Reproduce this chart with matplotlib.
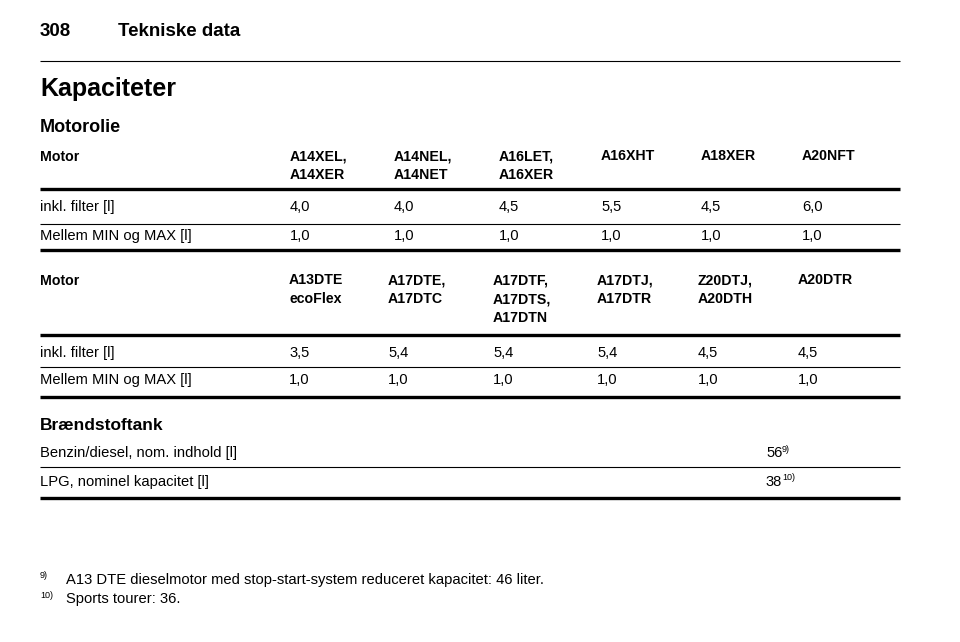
import matplotlib
matplotlib.use("Agg")
import matplotlib.pyplot as plt

plt.rcParams['font.family'] = ['Liberation Sans', 'DejaVu Sans']

page_no = "308"
page_title = "Tekniske data"
section = "Kapaciteter"
sub1 = "Motorolie"
sub2 = "Brændstoftank"

motors1 = ["A14XEL,\nA14XER", "A14NEL,\nA14NET", "A16LET,\nA16XER", "A16XHT", "A18XER", "A20NFT"]
filter1 = ["4,0", "4,0", "4,5", "5,5", "4,5", "6,0"]
minmax1 = ["1,0", "1,0", "1,0", "1,0", "1,0", "1,0"]

motors2 = ["A13DTE\necoFlex", "A17DTE,\nA17DTC", "A17DTF,\nA17DTS,\nA17DTN", "A17DTJ,\nA17DTR", "Z20DTJ,\nA20DTH", "A20DTR"]
filter2 = ["3,5", "5,4", "5,4", "5,4", "4,5", "4,5"]
minmax2 = ["1,0", "1,0", "1,0", "1,0", "1,0", "1,0"]

row_labels = ["Motor", "inkl. filter [l]", "Mellem MIN og MAX [l]"]
fuel_labels = ["Benzin/diesel, nom. indhold [l]", "LPG, nominel kapacitet [l]"]
fuel_values = ["56", "38"]
fuel_notes = ["9)", "10)"]
footnote_marks = ["9)", "10)"]
footnotes = ["A13 DTE dieselmotor med stop-start-system reduceret kapacitet: 46 liter.",
             "Sports tourer: 36."]

fig = plt.figure(figsize=(9.6, 6.42), dpi=100)
ax = fig.add_axes([0, 0, 1, 1])
ax.set_xlim(0, 960)
ax.set_ylim(642, 0)
ax.axis('off')

fs = 10.6
def t(x, y, s, **kw):
    kw.setdefault('fontsize', fs)
    ax.text(x, y, s, va='center', ha='left', **kw)

def hline(y, lw):
    ax.plot([40, 900], [y, y], color='black', lw=lw, solid_capstyle='butt')

t(40, 32, page_no, fontsize=13.5, fontweight='bold')
t(118, 32, page_title, fontsize=13.5, fontweight='bold')
hline(61, 0.8)
t(40, 89, section, fontsize=18, fontweight='bold')
t(40, 127, sub1, fontsize=13, fontweight='bold')

def block(y0, motors, xs, filt, mm, hline_y, row1, mid, row2, end):
    t(40, y0, row_labels[0], fontweight='bold', fontsize=10.2)
    for x, m in zip(xs, motors):
        ax.text(x, y0 - 7.5, m, va='top', ha='left', fontsize=10.2, fontweight='bold', linespacing=1.45)
    hline(hline_y, 2.4)
    t(40, row1, row_labels[1])
    for x, v in zip(xs, filt):
        t(x, row1, v)
    hline(mid, 0.8)
    t(40, row2, row_labels[2])
    for x, v in zip(xs, mm):
        t(x, row2, v)
    hline(end, 2.4)

block(157, motors1, [290, 394, 499, 601, 701, 802], filter1, minmax1, 189, 207, 224, 236, 250)
block(281, motors2, [289, 388, 493, 597, 698, 798], filter2, minmax2, 335, 353, 367, 380, 397)

t(40, 425, sub2, fontsize=12.5, fontweight='bold')
t(40, 453, fuel_labels[0]); t(766, 453, fuel_values[0]); t(782, 449, fuel_notes[0], fontsize=6.5)
hline(467, 0.8)
t(40, 482, fuel_labels[1]); t(766, 482, fuel_values[1]); t(782, 478, fuel_notes[1], fontsize=6.5)
hline(498, 2.4)

t(40, 576, footnote_marks[0], fontsize=6.5); t(66, 580, footnotes[0])
t(40, 595, footnote_marks[1], fontsize=6.5); t(66, 599, footnotes[1])

fig.savefig("out.png", dpi=100)
